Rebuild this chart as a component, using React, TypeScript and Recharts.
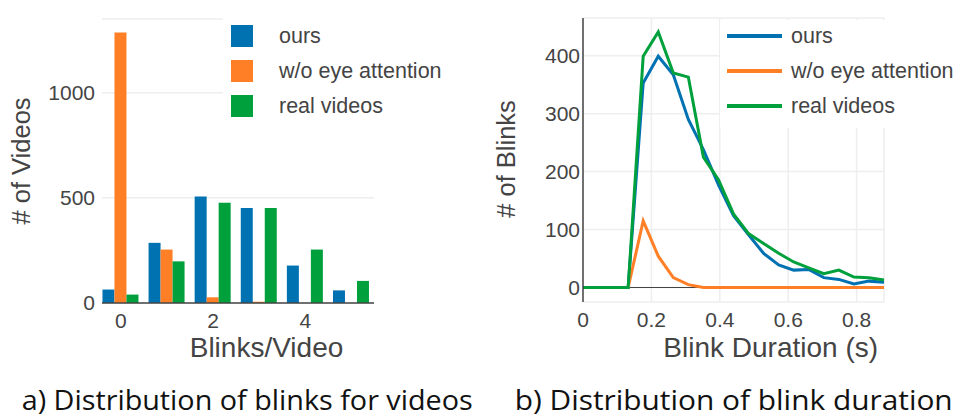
import React from 'react';
import { BarChart, Bar, LineChart, Line, XAxis, YAxis, CartesianGrid, ReferenceLine } from 'recharts';

// ---- Left chart data: blinks per video ----
const blinkCounts = [0, 1, 2, 3, 4, 5];
const oursVideos = [64, 286, 506, 451, 178, 60];
const woVideos = [1286, 254, 27, 6, 0, 0];
const realVideos = [40, 198, 476, 452, 254, 105];
const leftXTicks = [0, 2, 4];
const leftYTicks = [0, 500, 1000];

// ---- Right chart data: blink duration ----
const durations = [0, 0.044, 0.088, 0.132, 0.176, 0.22, 0.264, 0.308, 0.352, 0.396, 0.44, 0.484, 0.528, 0.572, 0.616, 0.66, 0.704, 0.748, 0.792, 0.836, 0.88];
const oursBlinks = [0, 0, 0, 0, 353, 399, 367, 290, 238, 177, 124, 91, 59, 39, 30, 31, 17, 14, 6, 11, 9];
const woBlinks = [0, 0, 0, 0, 115, 54, 17, 5, 0, 0, 0, 0, 0, 0, 0, 0, 0, 0, 0, 0, 0];
const realBlinks = [0, 0, 0, 0, 399, 441, 370, 363, 225, 186, 127, 93, 76, 59, 44, 34, 24, 30, 18, 17, 13];
const rightXTicks = [0, 0.2, 0.4, 0.6, 0.8];
const rightYTicks = [0, 100, 200, 300, 400];

const seriesNames = ['ours', 'w/o eye attention', 'real videos'];
const seriesColors = ['#0072b2', '#ff7f27', '#00a03c'];

const barData = blinkCounts.map((x, i) => ({ x, ours: oursVideos[i], wo: woVideos[i], real: realVideos[i] }));
const lineData = durations.map((x, i) => ({ x, ours: oursBlinks[i], wo: woBlinks[i], real: realBlinks[i] }));

const FONT = '"Liberation Sans", Arial, sans-serif';
const TXT = '#444';

const tickStyle = { fontSize: 21, fill: TXT, fontFamily: FONT };

function BarLegend() {
  return (
    <div style={{ position: 'absolute', left: 223, top: 18, width: 235, height: 108, background: '#fff', fontFamily: FONT }}>
      {seriesNames.map((n, i) => (
        <div key={n} style={{ position: 'absolute', left: 0, top: 7 + i * 35, height: 22, width: 235 }}>
          <div style={{ position: 'absolute', left: 8, top: 0, width: 22, height: 22, background: seriesColors[i] }} />
          <div style={{ position: 'absolute', left: 56, top: -2, fontSize: 21.5, color: TXT, lineHeight: '26px', whiteSpace: 'nowrap' }}>{n}</div>
        </div>
      ))}
    </div>
  );
}

function LineLegend() {
  return (
    <div style={{ position: 'absolute', left: 720, top: 20, width: 240, height: 108, background: '#fff', fontFamily: FONT }}>
      {seriesNames.map((n, i) => (
        <div key={n} style={{ position: 'absolute', left: 0, top: 5 + i * 35, height: 22, width: 240 }}>
          <div style={{ position: 'absolute', left: 7, top: 9, width: 55, height: 3.5, background: seriesColors[i] }} />
          <div style={{ position: 'absolute', left: 71, top: -2, fontSize: 21.5, color: TXT, lineHeight: '26px', whiteSpace: 'nowrap' }}>{n}</div>
        </div>
      ))}
    </div>
  );
}

export default function App() {
  return (
    <div style={{ position: 'absolute', left: 0, top: 0, width: 962, height: 419, background: '#fff', overflow: 'hidden' }}>
      <div style={{ position: 'absolute', left: 0, top: 0 }}>
        <BarChart width={480} height={370} data={barData} margin={{ top: 19, right: 106, bottom: 0, left: 0 }} barCategoryGap="10%" barGap={0}>
          <CartesianGrid vertical={false} stroke="#eeeeee" strokeWidth={1.5} />
          <XAxis
            dataKey="x"
            type="number"
            domain={[-0.41, 5.49]}
            ticks={leftXTicks}
            interval={0}
            height={67}
            tickLine={false}
            tickSize={8}
            tickMargin={2}
            axisLine={{ stroke: TXT, strokeWidth: 1.5 }}
            tick={tickStyle}
            label={{
              content: () => (
                <text x={266.5} y={357} textAnchor="middle" fontSize={28} fill={TXT} fontFamily={FONT}>Blinks/Video</text>
              ),
            }}
          />
          <YAxis
            width={102}
            domain={[0, 1350]}
            ticks={leftYTicks}
            axisLine={false}
            tickLine={false}
            tickSize={5}
            tickMargin={2}
            tick={tickStyle}
            label={{
              content: () => (
                <text x={21} y={161} transform="rotate(-90, 21, 161)" textAnchor="middle" dominantBaseline="central" fontSize={25.5} fill={TXT} fontFamily={FONT}># of Videos</text>
              ),
            }}
          />
          <Bar dataKey="ours" fill={seriesColors[0]} isAnimationActive={false} />
          <Bar dataKey="wo" fill={seriesColors[1]} isAnimationActive={false} />
          <Bar dataKey="real" fill={seriesColors[2]} isAnimationActive={false} />
        </BarChart>
      </div>
      <BarLegend />

      <div style={{ position: 'absolute', left: 480, top: 0 }}>
        <LineChart width={482} height={370} data={lineData} margin={{ top: 18, right: 78, bottom: 0, left: 0 }}>
          <CartesianGrid stroke="#eeeeee" strokeWidth={1.5} />
          <XAxis
            dataKey="x"
            type="number"
            domain={[0, 0.88]}
            ticks={rightXTicks}
            interval={0}
            height={68}
            tickLine={false}
            tickSize={8}
            tickMargin={2}
            axisLine={false}
            tick={tickStyle}
            label={{
              content: () => (
                <text x={290.7} y={357} textAnchor="middle" fontSize={28} fill={TXT} fontFamily={FONT}>Blink Duration (s)</text>
              ),
            }}
          />
          <YAxis
            width={103}
            domain={[-25, 465]}
            ticks={rightYTicks}
            axisLine={{ stroke: TXT, strokeWidth: 1.5 }}
            tickLine={false}
            tickSize={1}
            tickMargin={2}
            tick={tickStyle}
            label={{
              content: () => (
                <text x={26} y={159} transform="rotate(-90, 26, 159)" textAnchor="middle" dominantBaseline="central" fontSize={25.5} fill={TXT} fontFamily={FONT}># of Blinks</text>
              ),
            }}
          />
          <ReferenceLine y={0} stroke={TXT} strokeWidth={1.2} />
          <Line type="linear" dataKey="ours" stroke={seriesColors[0]} strokeWidth={3} dot={false} isAnimationActive={false} />
          <Line type="linear" dataKey="wo" stroke={seriesColors[1]} strokeWidth={3} dot={false} isAnimationActive={false} />
          <Line type="linear" dataKey="real" stroke={seriesColors[2]} strokeWidth={3} dot={false} isAnimationActive={false} />
        </LineChart>
      </div>
      <LineLegend />

      <svg width={962} height={49} style={{ position: 'absolute', left: 0, top: 370 }}>
        <text x={21.7} y={39.5} fontSize={27} fontFamily='"Open Sans", sans-serif' fill="#111" textLength={451} lengthAdjust="spacingAndGlyphs">a) Distribution of blinks for videos</text>
        <text x={514.7} y={39.5} fontSize={27} fontFamily='"Open Sans", sans-serif' fill="#111" textLength={438} lengthAdjust="spacingAndGlyphs">b) Distribution of blink duration</text>
      </svg>
    </div>
  );
}
